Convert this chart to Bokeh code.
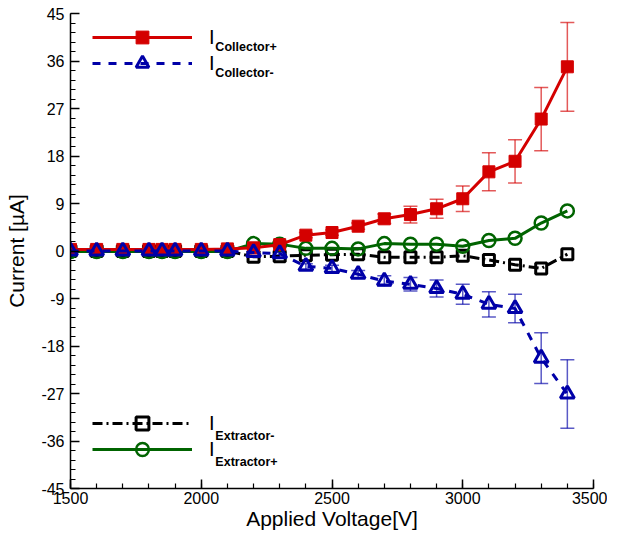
from bokeh.plotting import figure
from bokeh.models import (ColumnDataSource, Whisker, Legend, LegendItem, Label,
                          FixedTicker, Range1d, TeeHead)
from bokeh.embed import file_html
from bokeh.resources import INLINE

# ---------------- data ----------------
voltage = [1500, 1600, 1700, 1800, 1850, 1900, 2000, 2100, 2200, 2300, 2400,
           2500, 2600, 2700, 2800, 2900, 3000, 3100, 3200, 3300, 3400]

i_collector_plus = [0.3, 0.3, 0.3, 0.3, 0.3, 0.3, 0.3, 0.4, 0.6, 1.2, 3.0,
                    3.5, 4.7, 6.1, 6.9, 8.0, 9.9, 15.0, 17.0, 25.0, 34.9]
err_collector_plus = [0.2, 0.2, 0.2, 0.2, 0.2, 0.2, 0.2, 0.2, 0.2, 0.3, 0.5,
                      0.5, 0.6, 0.9, 1.6, 1.8, 2.4, 3.6, 4.1, 6.0, 8.4]

i_collector_minus = [0.0, 0.0, 0.0, 0.0, 0.0, 0.0, 0.0, 0.0, -0.3, -0.5, -2.9,
                     -3.3, -4.4, -5.7, -6.3, -7.1, -8.2, -10.1, -10.9, -20.3, -27.1]
err_collector_minus = [0.2, 0.2, 0.2, 0.2, 0.2, 0.2, 0.2, 0.2, 0.2, 0.2, 0.5,
                       0.6, 0.7, 1.0, 1.3, 1.6, 1.9, 2.4, 2.7, 4.8, 6.5]

i_extractor_minus = [0.0, 0.0, 0.0, 0.0, 0.0, 0.0, 0.0, 0.0, -1.1, -1.0, -0.8,
                     -0.7, -0.6, -1.2, -1.2, -1.2, -0.9, -1.7, -2.6, -3.3, -0.6]

i_extractor_plus = [-0.1, -0.1, -0.1, -0.1, -0.1, -0.1, -0.1, -0.1, 1.4, 1.3, 0.5,
                    0.5, 0.4, 1.4, 1.3, 1.3, 0.9, 2.0, 2.4, 5.3, 7.6]

x_major_ticks = [1500, 2000, 2500, 3000, 3500]
x_minor_ticks = list(range(1500, 3501, 100))
y_major_ticks = [-45, -36, -27, -18, -9, 0, 9, 18, 27, 36, 45]
y_tick_labels = ["-45", "-36", "-27", "-18", "-9", "0", "9", "18", "27", "36", "45"]
y_minor_ticks = [round(-45 + 1.8 * k, 1) for k in range(51)]

legend_subscripts = ["Collector+", "Collector-", "Extractor-", "Extractor+"]

# ---------------- styles ----------------
RED = "#d40000"
BLUE = "#0000a8"
BLACK = "#000000"
GREEN = "#006400"
FONT = "Liberation Sans"

p = figure(frame_width=523, frame_height=475, output_backend="svg",
           toolbar_location=None,
           x_range=Range1d(1500, 3500), y_range=Range1d(-45, 45),
           min_border_left=70, min_border_right=14, min_border_top=13,
           min_border_bottom=42)
p.outline_line_color = None
p.xgrid.visible = False
p.ygrid.visible = False
p.background_fill_color = "white"

for ax in (p.xaxis[0], p.yaxis[0]):
    ax.major_tick_in = 9
    ax.major_tick_out = 0
    ax.minor_tick_in = 5
    ax.minor_tick_out = 0
    ax.axis_line_width = 1.5
    ax.major_tick_line_width = 1.5
    ax.minor_tick_line_width = 1.2
    ax.axis_line_color = "black"
    ax.major_tick_line_color = "black"
    ax.minor_tick_line_color = "black"
    ax.major_label_text_font = FONT
    ax.major_label_text_font_size = "16px"
    ax.major_label_text_color = "black"
    ax.axis_label_text_font = FONT
    ax.axis_label_text_font_style = "normal"
    ax.axis_label_text_font_size = "21px"
    ax.axis_label_text_color = "black"

p.xaxis[0].ticker = FixedTicker(ticks=x_major_ticks, minor_ticks=x_minor_ticks)
p.yaxis[0].ticker = FixedTicker(ticks=y_major_ticks, minor_ticks=y_minor_ticks)
p.yaxis[0].major_label_overrides = {t: s for t, s in zip(y_major_ticks, y_tick_labels)}
p.xaxis[0].axis_label = "Applied Voltage[V]"
p.yaxis[0].axis_label = "Current [µA]"
p.xaxis[0].major_label_standoff = 3
p.xaxis[0].axis_label_standoff = 0
p.yaxis[0].major_label_standoff = 6
p.yaxis[0].axis_label_standoff = 10

# ---------------- error bars ----------------
src_cp = ColumnDataSource(dict(
    x=voltage,
    upper=[v + e for v, e in zip(i_collector_plus, err_collector_plus)],
    lower=[v - e for v, e in zip(i_collector_plus, err_collector_plus)]))
src_cm = ColumnDataSource(dict(
    x=voltage,
    upper=[v + e for v, e in zip(i_collector_minus, err_collector_minus)],
    lower=[v - e for v, e in zip(i_collector_minus, err_collector_minus)]))

for s, col in ((src_cp, RED), (src_cm, BLUE)):
    w = Whisker(source=s, base="x", upper="upper", lower="lower",
                line_color=col, line_alpha=0.65, line_width=1.5,
                upper_head=TeeHead(size=14, line_color=col, line_alpha=0.65, line_width=1.5),
                lower_head=TeeHead(size=14, line_color=col, line_alpha=0.65, line_width=1.5))
    p.add_layout(w)

# ---------------- series ----------------
src = ColumnDataSource(dict(x=voltage, cp=i_collector_plus, cm=i_collector_minus,
                            em=i_extractor_minus, ep=i_extractor_plus))

em_line = p.line("x", "em", source=src, line_color=BLACK, line_width=3,
                 line_dash="10 4 2 4")
em_pts = p.scatter("x", "em", source=src, marker="square", size=11,
                   fill_color="white", fill_alpha=0, line_color=BLACK, line_width=3)

ep_line = p.line("x", "ep", source=src, line_color=GREEN, line_width=3)
ep_pts = p.scatter("x", "ep", source=src, marker="circle", size=13,
                   fill_color="white", fill_alpha=0, line_color=GREEN, line_width=2.5)

cp_line = p.line("x", "cp", source=src, line_color=RED, line_width=3)
cp_pts = p.scatter("x", "cp", source=src, marker="square", size=12,
                   fill_color=RED, line_color=RED, line_width=1)

cm_line = p.line("x", "cm", source=src, line_color=BLUE, line_width=3,
                 line_dash="8 8")
cm_pts = p.scatter("x", "cm", source=src, marker="triangle", size=14,
                   fill_color="white", fill_alpha=0, line_color=BLUE, line_width=3)

# ---------------- legends (one per entry, I + subscript) ----------------
legend_entries = [
    ([cp_line, cp_pts], (22, 435), 38.6),
    ([cm_line, cm_pts], (22, 409), 33.8),
    ([em_line, em_pts], (22, 49), -35.0),
    ([ep_line, ep_pts], (22, 23), -39.9),
]
for (rends, loc, sub_y), sub in zip(legend_entries, legend_subscripts):
    lg = Legend(items=[LegendItem(label="I", renderers=rends)], location=loc,
                glyph_width=100, glyph_height=32, spacing=0, padding=0, margin=0,
                label_standoff=17, label_text_font=FONT, label_text_font_size="20px",
                label_text_color="black", border_line_color=None,
                background_fill_alpha=0, label_height=20)
    p.add_layout(lg)
    p.add_layout(Label(x=2054, y=sub_y, text=sub, text_font=FONT,
                       text_font_size="12.5px", text_font_style="bold",
                       text_color="black", text_baseline="alphabetic"))

open("out.html", "w").write(file_html(p, INLINE))
